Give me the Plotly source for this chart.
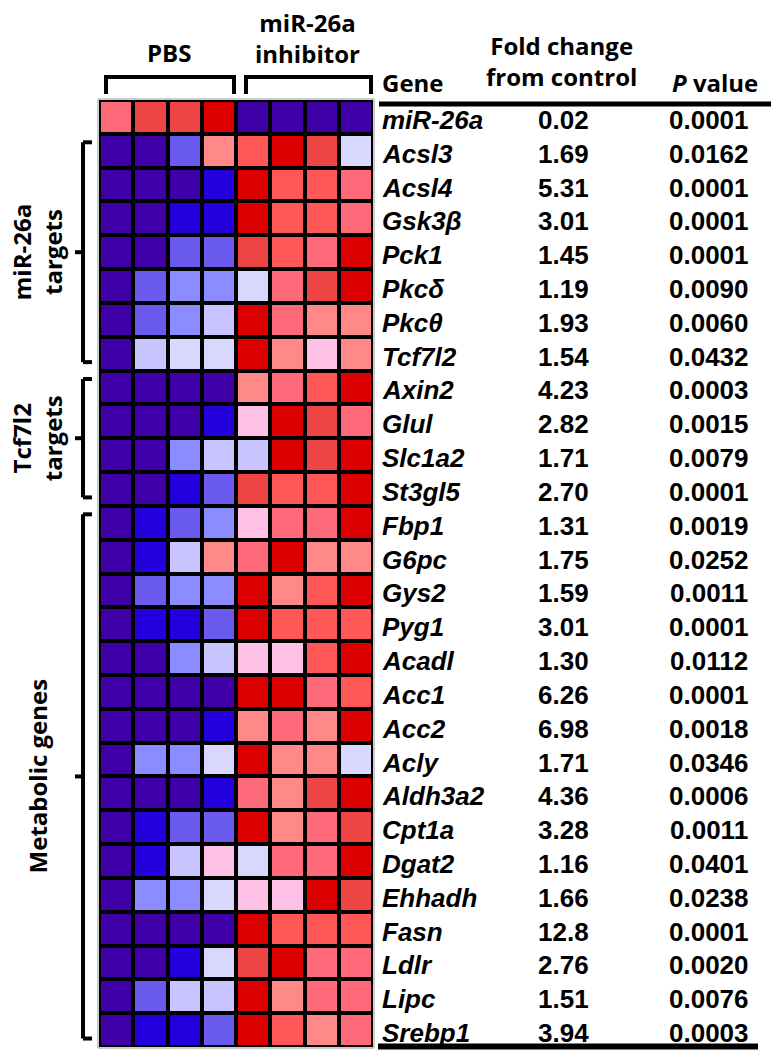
import plotly.graph_objects as go

W, H = 771, 1050

genes = ["miR-26a", "Acsl3", "Acsl4", "Gsk3β", "Pck1", "Pkcδ", "Pkcθ", "Tcf7l2",
         "Axin2", "Glul", "Slc1a2", "St3gl5", "Fbp1", "G6pc", "Gys2", "Pyg1",
         "Acadl", "Acc1", "Acc2", "Acly", "Aldh3a2", "Cpt1a", "Dgat2", "Ehhadh",
         "Fasn", "Ldlr", "Lipc", "Srebp1"]
fold_change = ["0.02", "1.69", "5.31", "3.01", "1.45", "1.19", "1.93", "1.54",
               "4.23", "2.82", "1.71", "2.70", "1.31", "1.75", "1.59", "3.01",
               "1.30", "6.26", "6.98", "1.71", "4.36", "3.28", "1.16", "1.66",
               "12.8", "2.76", "1.51", "3.94"]
p_values = ["0.0001", "0.0162", "0.0001", "0.0001", "0.0001", "0.0090", "0.0060", "0.0432",
            "0.0003", "0.0015", "0.0079", "0.0001", "0.0019", "0.0252", "0.0011", "0.0001",
            "0.0112", "0.0001", "0.0018", "0.0346", "0.0006", "0.0011", "0.0401", "0.0238",
            "0.0001", "0.0020", "0.0076", "0.0003"]
samples = ["PBS 1", "PBS 2", "PBS 3", "PBS 4", "Inh 1", "Inh 2", "Inh 3", "Inh 4"]

# colour level of each cell (0 = deepest blue/purple ... 11 = deepest red)
levels = [
    [8, 10, 10, 11, 0, 0, 0, 0],
    [0, 0, 2, 7, 9, 11, 10, 5],
    [0, 0, 0, 1, 11, 9, 9, 8],
    [0, 0, 1, 1, 11, 9, 9, 8],
    [0, 0, 2, 2, 10, 9, 8, 11],
    [0, 2, 3, 3, 5, 8, 10, 11],
    [0, 2, 3, 4, 11, 8, 7, 7],
    [0, 4, 5, 5, 11, 7, 6, 7],
    [0, 0, 0, 0, 7, 8, 9, 11],
    [0, 0, 0, 1, 6, 11, 10, 8],
    [0, 0, 3, 4, 4, 11, 10, 11],
    [0, 0, 1, 2, 10, 9, 9, 11],
    [0, 1, 2, 3, 6, 8, 8, 11],
    [0, 1, 4, 7, 8, 11, 7, 7],
    [0, 2, 3, 3, 11, 7, 9, 11],
    [0, 1, 1, 2, 11, 9, 9, 9],
    [0, 0, 3, 4, 6, 6, 9, 11],
    [0, 0, 0, 0, 11, 11, 8, 9],
    [0, 0, 0, 1, 7, 8, 7, 11],
    [0, 3, 3, 5, 11, 7, 7, 5],
    [0, 0, 0, 1, 8, 7, 10, 11],
    [0, 1, 2, 2, 11, 7, 8, 10],
    [0, 1, 4, 6, 5, 8, 8, 11],
    [0, 3, 3, 5, 6, 6, 11, 10],
    [0, 0, 0, 0, 11, 9, 9, 9],
    [0, 0, 1, 5, 10, 11, 8, 8],
    [0, 2, 4, 4, 11, 7, 8, 8],
    [0, 1, 1, 2, 11, 9, 7, 8],
]
palette = ["#4000A8", "#2400DC", "#6A5AEE", "#8A8CFF", "#C8C4FF", "#D8D8FF",
           "#FFC0E6", "#FF8888", "#FF6A7A", "#FF5656", "#EE4444", "#DD0000"]

groups = [("miR-26a<br>targets", 1, 7), ("Tcf7l2<br>targets", 8, 11), ("Metabolic genes", 12, 27)]


def px(x):
    return x / W


def py(y):
    return 1 - y / H


HX0, HX1, HY0, HY1 = 99, 373, 100, 1047

colorscale = [[i / (len(palette) - 1), c] for i, c in enumerate(palette)]

fig = go.Figure(go.Heatmap(
    z=levels, x=list(range(8)), y=list(range(len(genes))),
    colorscale=colorscale, zmin=0, zmax=len(palette) - 1,
    showscale=False, xgap=4, ygap=4, hoverinfo="skip",
))

fig.update_layout(
    width=W, height=H, margin=dict(l=0, r=0, t=0, b=0),
    paper_bgcolor="white", plot_bgcolor="black",
    xaxis=dict(domain=[px(HX0), px(HX1)], range=[-0.5, 7.5], visible=False, fixedrange=True),
    yaxis=dict(domain=[py(HY1), py(HY0)], range=[len(genes) - 0.5, -0.5], visible=False, fixedrange=True),
    showlegend=False,
)

shapes = []
ann = []
LW = 4
blk = dict(color="black", width=LW)

# heatmap outline
shapes.append(dict(type="rect", xref="paper", yref="paper", x0=px(HX0 - 1), x1=px(HX1 + 1),
                   y0=py(HY1 + 1), y1=py(HY0 - 1), line=dict(color="#9a9a9a", width=1)))

# top brackets
for x0, x1 in [(106, 234), (246, 371)]:
    shapes.append(dict(type="path", xref="paper", yref="paper",
                       path=f"M {px(x0)},{py(94)} L {px(x0)},{py(77)} L {px(x1)},{py(77)} L {px(x1)},{py(94)}",
                       line=blk))

header_font = dict(family="Open Sans", size=24, color="black", weight=700)
ann.append(dict(text="PBS", x=px(169), y=py(52), xref="paper", yref="paper",
                showarrow=False, font=header_font, xanchor="center", yanchor="middle"))
ann.append(dict(text="miR-26a<br>inhibitor", x=px(307), y=py(38), xref="paper", yref="paper",
                showarrow=False, font=header_font, xanchor="center", yanchor="middle"))

# left brackets, via row positions
for label, r0, r1 in groups:
    inset = 0.25
    ya = r0 - 0.5 + inset
    yb = r1 + 0.5 - inset
    xv, xt, xc = px(83), px(92), px(75)
    shapes.append(dict(type="line", xref="paper", yref="y", x0=xv, x1=xv, y0=ya, y1=yb, line=blk))
    shapes.append(dict(type="line", xref="paper", yref="y", x0=xv, x1=xt, y0=ya, y1=ya, line=blk))
    shapes.append(dict(type="line", xref="paper", yref="y", x0=xv, x1=xt, y0=yb, y1=yb, line=blk))
    ym = (ya + yb) / 2
    shapes.append(dict(type="line", xref="paper", yref="y", x0=xc, x1=xv, y0=ym, y1=ym, line=blk))
    ann.append(dict(text=label, x=px(37), y=ym, xref="paper", yref="y",
                    showarrow=False, textangle=-90, font=header_font,
                    xanchor="center", yanchor="middle"))

# table headers
ann.append(dict(text="Gene", x=px(380), y=py(82), xref="paper", yref="paper",
                showarrow=False, font=header_font, xanchor="left", yanchor="middle"))
ann.append(dict(text="Fold change<br>from control", x=px(561), y=py(61), xref="paper", yref="paper",
                showarrow=False, font=header_font, xanchor="center", yanchor="middle"))
ann.append(dict(text="<i>P</i> value", x=px(715), y=py(82), xref="paper", yref="paper",
                showarrow=False, font=header_font, xanchor="center", yanchor="middle"))

# table rules
shapes.append(dict(type="line", xref="paper", yref="paper", x0=px(379), x1=px(771),
                   y0=py(104), y1=py(104), line=dict(color="black", width=5)))
shapes.append(dict(type="line", xref="paper", yref="paper", x0=px(378), x1=px(758),
                   y0=py(1046.5), y1=py(1046.5), line=dict(color="black", width=6)))

tfont = dict(family="Liberation Sans", size=26, color="black")
for i, g in enumerate(genes):
    ann.append(dict(text=f"<b><i>{g}</i></b>", x=px(380), y=i, xref="paper", yref="y",
                    showarrow=False, font=tfont, xanchor="left", yanchor="middle", yshift=-3))
    ann.append(dict(text=f"<b>{fold_change[i]}</b>", x=px(563), y=i, xref="paper", yref="y",
                    showarrow=False, font=tfont, xanchor="center", yanchor="middle", yshift=-3))
    ann.append(dict(text=f"<b>{p_values[i]}</b>", x=px(709), y=i, xref="paper", yref="y",
                    showarrow=False, font=tfont, xanchor="center", yanchor="middle", yshift=-3))

fig.update_layout(shapes=shapes, annotations=ann)
fig.write_html("out.html", config={"displayModeBar": False},
               post_script="document.body.style.margin='0px';document.body.style.overflow='hidden';")
